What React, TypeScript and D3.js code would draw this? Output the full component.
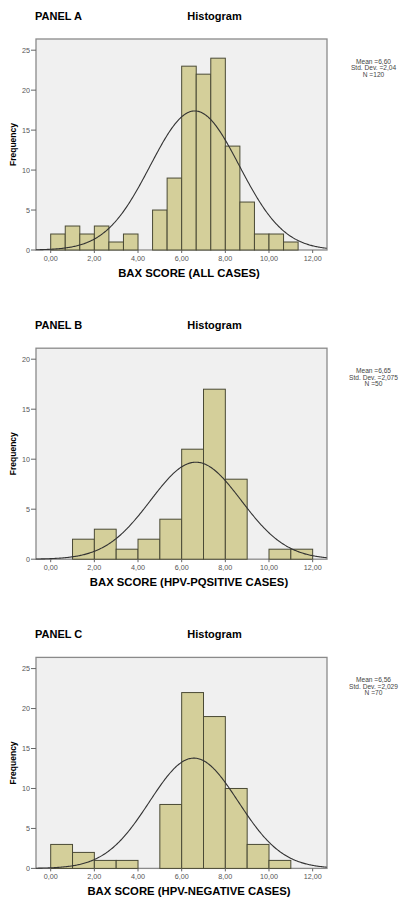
import * as d3 from 'd3';

// histogram counts
const panelNames = ['PANEL A', 'PANEL B', 'PANEL C'];
const axisTitles = ['BAX SCORE (ALL CASES)', 'BAX SCORE (HPV-PQSITIVE CASES)', 'BAX SCORE (HPV-NEGATIVE CASES)'];
const binWidths = [2 / 3, 1, 1];
const countsA = [2, 3, 2, 3, 1, 2, 0, 5, 9, 23, 22, 24, 13, 6, 2, 2, 1];
const countsB = [0, 2, 3, 1, 2, 4, 11, 17, 8, 0, 1, 1];
const countsC = [3, 2, 1, 1, 0, 8, 22, 19, 10, 3, 1];
const means = [6.6, 6.65, 6.56];
const sds = [2.04, 2.075, 2.029];
const curvePeaks = [17.4, 9.7, 13.8];
const yMaxes = [26.4, 21.1, 26.4];
const yTickSets = [[0, 5, 10, 15, 20, 25], [0, 5, 10, 15, 20], [0, 5, 10, 15, 20, 25]];
const legendLines = [
  ['Mean =6,60', 'Std. Dev. =2,04', 'N =120'],
  ['Mean =6,65', 'Std. Dev. =2,075', 'N =50'],
  ['Mean =6,56', 'Std. Dev. =2,029', 'N =70'],
];
const xTicks = [0, 2, 4, 6, 8, 10, 12];

const allCounts = [countsA, countsB, countsC];
const font = '"Liberation Sans", Arial, sans-serif';

function Panel({ i }: { i: number }) {
  const top = 39 + i * 309.2;
  const h = 211;
  const x = d3.scaleLinear().domain([-0.673, 12.657]).range([36, 327]);
  const y = d3.scaleLinear().domain([0, yMaxes[i]]).range([top + h, top]);
  const w = binWidths[i];
  const counts = allCounts[i];

  const xs = d3.range(-0.673, 12.66, 0.04);
  const line = d3.line<number>()
    .x(d => x(d))
    .y(d => y(curvePeaks[i] * Math.exp(-0.5 * ((d - means[i]) / sds[i]) ** 2)));

  const y0 = y(0);
  const titleY = top - 23.3;

  return (
    <g fontFamily={font}>
      <text x={35} y={titleY + 4} fontSize={11} fontWeight="bold">{panelNames[i]}</text>
      <text x={214.5} y={titleY + 4} fontSize={11} fontWeight="bold" textAnchor="middle">Histogram</text>

      <rect x={36} y={top} width={291} height={h} fill="#f0f0f0" stroke="#8a8a8a" strokeWidth={1.3} />

      {counts.map((c, k) => c > 0 && (
        <rect key={k}
          x={x(k * w)} y={y(c)}
          width={x(w) - x(0)} height={y0 - y(c)}
          fill="#d4cf9a" stroke="#4a4a35" strokeWidth={1} />
      ))}

      <path d={line(xs) || ''} fill="none" stroke="#333" strokeWidth={1.1} />

      {yTickSets[i].map(t => (
        <g key={t}>
          <line x1={31} x2={36} y1={y(t)} y2={y(t)} stroke="#666" strokeWidth={1} />
          <text x={30} y={y(t) + 2.5} fontSize={7.2} fill="#555" textAnchor="end">{t}</text>
        </g>
      ))}
      {xTicks.map(t => (
        <g key={t}>
          <line x1={x(t)} x2={x(t)} y1={y0} y2={y0 + 3} stroke="#666" strokeWidth={1} />
          <text x={x(t)} y={y0 + 10.8} fontSize={7.2} fill="#555" textAnchor="middle">
            {t.toFixed(2).replace('.', ',')}
          </text>
        </g>
      ))}

      <text transform={`translate(16.3,${top + h / 2}) rotate(-90)`} fontSize={8.5} fontWeight="bold" textAnchor="middle">Frequency</text>
      <text x={189} y={y0 + 27} fontSize={11.3} fontWeight="bold" textAnchor="middle">{axisTitles[i]}</text>

      {legendLines[i].map((s, k) => (
        <text key={k} x={373.5} y={top + 25 + k * 6.3} fontSize={6.6} fill="#444" textAnchor="middle">{s}</text>
      ))}
    </g>
  );
}

export default function App() {
  return (
    <svg width={407} height={897} style={{ position: 'absolute', left: 0, top: 0, background: '#fff' }}>
      {[0, 1, 2].map(i => <Panel key={i} i={i} />)}
    </svg>
  );
}
